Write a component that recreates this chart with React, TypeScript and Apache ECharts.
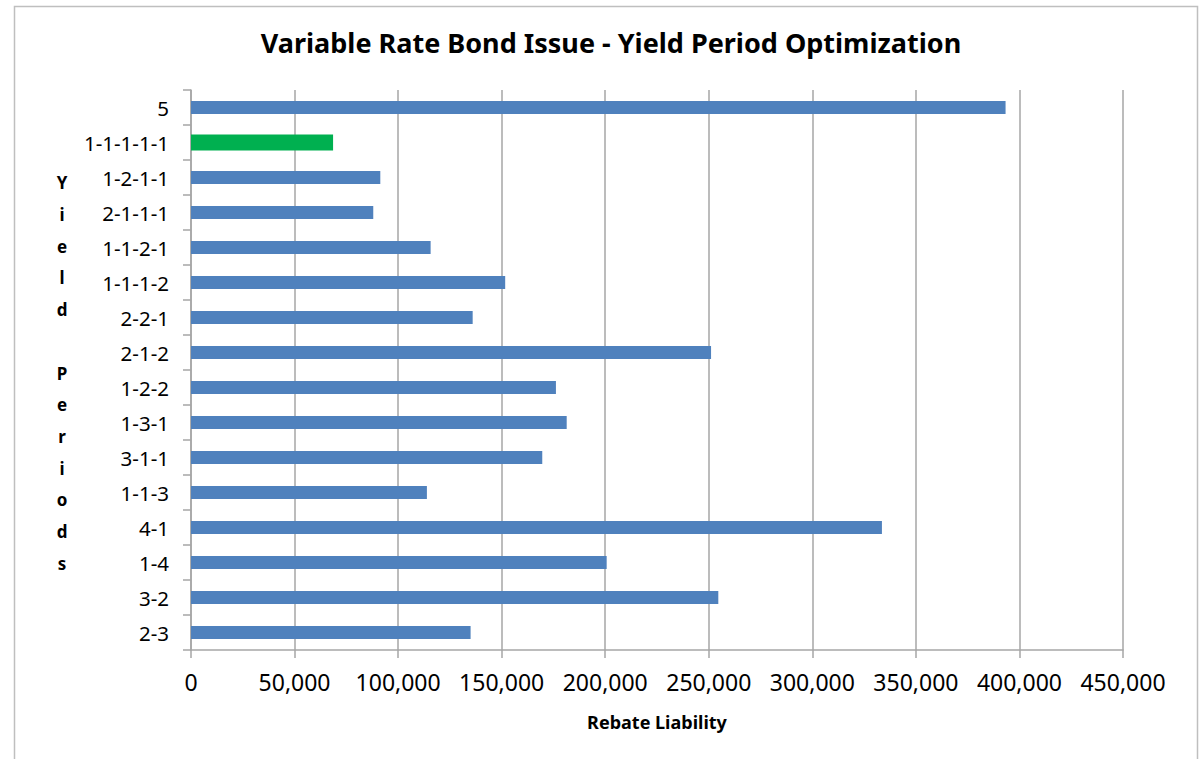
import React, { useEffect, useRef } from "react";
import * as echarts from "echarts";

const categories = [
  "5", "1-1-1-1-1", "1-2-1-1", "2-1-1-1", "1-1-2-1", "1-1-1-2", "2-2-1", "2-1-2",
  "1-2-2", "1-3-1", "3-1-1", "1-1-3", "4-1", "1-4", "3-2", "2-3",
];
const rebateLiability = [
  393300, 68600, 91400, 88000, 115700, 151700, 136000, 251100,
  176200, 181400, 169600, 113900, 333600, 200700, 254600, 135000,
];
const optimalCategory = "1-1-1-1-1";
const xTicks = [0, 50000, 100000, 150000, 200000, 250000, 300000, 350000, 400000, 450000];

const title = "Variable Rate Bond Issue - Yield Period Optimization";
const xAxisTitle = "Rebate Liability";
const yAxisTitle = "Y\ni\ne\nl\nd\n\nP\ne\nr\ni\no\nd\ns";

export default function App() {
  const ref = useRef<HTMLDivElement>(null);
  useEffect(() => {
    if (!ref.current) return;
    const chart = echarts.init(ref.current, null, { renderer: "svg" });
    const blueData = categories.map((c, i) => (c === optimalCategory ? null : rebateLiability[i]));
    const greenData = categories.map((c, i) => (c === optimalCategory ? rebateLiability[i] : null));
    const fmt = (v: number) => v.toLocaleString("en-US");
    chart.setOption({
      animation: false,
      backgroundColor: "#ffffff",
      title: {
        text: title,
        left: 606,
        top: 24,
        textAlign: "center",
        textStyle: { fontFamily: "Noto Sans", fontWeight: "bold", fontSize: 27, color: "#000" },
      },
      graphic: [
        {
          type: "rect",
          shape: { x: 14.5, y: 6.5, width: 1183, height: 800 },
          style: { fill: "none", stroke: "#bfbfbf", lineWidth: 1.5 },
          silent: true,
        },
        {
          type: "text",
          x: 62,
          y: 373,
          style: {
            text: yAxisTitle,
            fontFamily: "Noto Sans",
            fontWeight: "bold",
            fontSize: 17,
            lineHeight: 31.7,
            fill: "#000",
            textAlign: "center",
            textVerticalAlign: "middle",
          },
        },
      ],
      grid: { left: 191, right: 78, top: 90, bottom: 109, containLabel: false },
      xAxis: {
        type: "value",
        min: xTicks[0],
        max: xTicks[xTicks.length - 1],
        interval: xTicks[1] - xTicks[0],
        name: xAxisTitle,
        nameLocation: "middle",
        nameGap: 63,
        nameTextStyle: { fontFamily: "Noto Sans", fontWeight: "bold", fontSize: 18, color: "#000" },
        axisLine: { show: true, lineStyle: { color: "#a6a6a6", width: 1.5 } },
        axisTick: { show: true, length: 8, lineStyle: { color: "#a6a6a6", width: 1.5 } },
        axisLabel: {
          margin: 20,
          formatter: (v: number) => fmt(v),
          fontFamily: "Noto Sans",
          fontSize: 23,
          color: "#000",
        },
        splitLine: { show: true, lineStyle: { color: "#a6a6a6", width: 1.5 } },
      },
      yAxis: [
        {
          type: "category",
          data: categories,
          inverse: true,
          axisLine: { show: true, lineStyle: { color: "#a6a6a6", width: 1.5 } },
          axisTick: { show: true, length: 8, inside: false, lineStyle: { color: "#a6a6a6", width: 1.5 } },
          axisLabel: { margin: 22, fontFamily: "Noto Sans", fontSize: 20.5, color: "#000" },
          splitLine: { show: false },
        },
        {
          type: "category",
          data: categories,
          inverse: true,
          position: "left",
          show: false,
        },
      ],
      series: [
        {
          type: "bar",
          yAxisIndex: 0,
          data: blueData,
          barWidth: 13,
          itemStyle: { color: "#4f81bd" },
        },
        {
          type: "bar",
          yAxisIndex: 1,
          data: greenData,
          barWidth: 16,
          itemStyle: { color: "#00b050" },
        },
      ],
    });
    return () => chart.dispose();
  }, []);
  return (
    <div
      ref={ref}
      style={{ position: "fixed", left: 0, top: 0, width: 1201, height: 759 }}
    />
  );
}
